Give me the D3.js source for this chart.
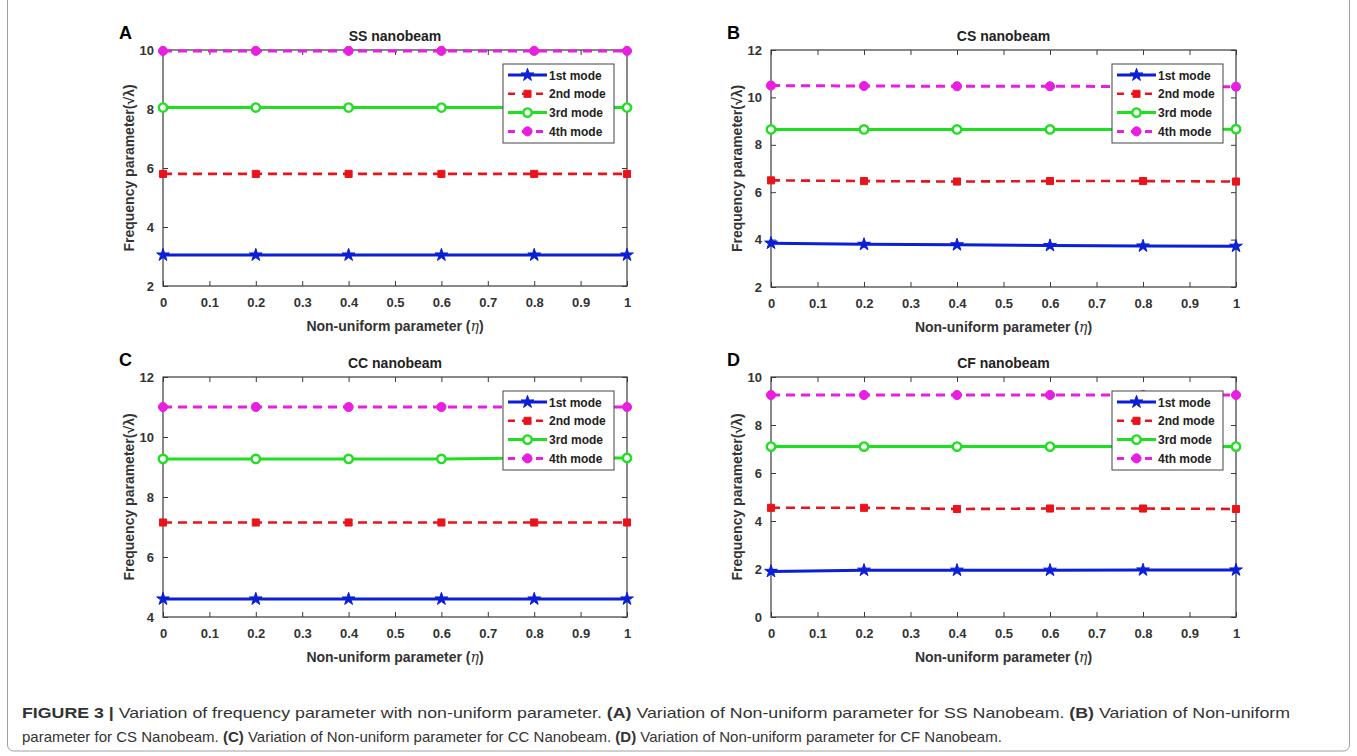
<!DOCTYPE html>
<html><head><meta charset="utf-8">
<script src="https://cdn.jsdelivr.net/npm/d3@7"></script>
<style>body{margin:0;background:#fff}svg{display:block}</style>
</head><body>
<svg id="c" width="1357" height="756"></svg>
<script>
// ---- data ----
const eta = [0, 0.2, 0.4, 0.6, 0.8, 1];
const xTicks = [0, 0.1, 0.2, 0.3, 0.4, 0.5, 0.6, 0.7, 0.8, 0.9, 1];
const modeNames = ["1st mode", "2nd mode", "3rd mode", "4th mode"];
const panelLetters = ["A", "B", "C", "D"];
const panelTitles = ["SS nanobeam", "CS nanobeam", "CC nanobeam", "CF nanobeam"];
const yDomains = [[2, 10], [2, 12], [4, 12], [0, 10]];
const yTickValues = [[2, 4, 6, 8, 10], [2, 4, 6, 8, 10, 12], [4, 6, 8, 10, 12], [0, 2, 4, 6, 8, 10]];
const ssModes = [
  [3.05, 3.05, 3.05, 3.05, 3.05, 3.05],
  [5.8, 5.8, 5.8, 5.8, 5.8, 5.8],
  [8.05, 8.05, 8.05, 8.05, 8.05, 8.05],
  [9.97, 9.97, 9.97, 9.97, 9.97, 9.97]
];
const csModes = [
  [3.85, 3.8, 3.78, 3.75, 3.73, 3.72],
  [6.5, 6.47, 6.45, 6.47, 6.47, 6.45],
  [8.65, 8.65, 8.65, 8.65, 8.65, 8.66],
  [10.5, 10.48, 10.47, 10.47, 10.46, 10.45]
];
const ccModes = [
  [4.6, 4.6, 4.6, 4.6, 4.6, 4.6],
  [7.15, 7.15, 7.15, 7.15, 7.15, 7.15],
  [9.27, 9.27, 9.27, 9.27, 9.3, 9.3],
  [11.0, 11.0, 11.0, 11.0, 11.0, 11.0]
];
const cfModes = [
  [1.9, 1.95, 1.95, 1.95, 1.96, 1.96],
  [4.55, 4.55, 4.5, 4.52, 4.52, 4.5],
  [7.1, 7.1, 7.1, 7.1, 7.1, 7.1],
  [9.25, 9.25, 9.25, 9.25, 9.25, 9.25]
];
const panelData = [ssModes, csModes, ccModes, cfModes];

// ---- layout / style ----
const layouts = [
  {x0: 163, x1: 627, y0: 50, y1: 286},
  {x0: 771, x1: 1236, y0: 50, y1: 287},
  {x0: 163, x1: 627, y0: 377, y1: 617},
  {x0: 771, x1: 1236, y0: 377, y1: 617}
];
const styles = [
  {color: "#0a1fd6", dash: null, width: 3, sym: d3.symbolStar, size: 50, fill: true},
  {color: "#e8141c", dash: "9,6", width: 2.6, sym: d3.symbolSquare, size: 50, fill: true},
  {color: "#1fe01f", dash: null, width: 3, sym: d3.symbolCircle, size: 55, fill: false},
  {color: "#e81ee0", dash: "9,6", width: 3, sym: d3.symbolCircle, size: 65, fill: true}
];
const font = "'Liberation Sans', Arial, sans-serif";
const svg = d3.select("#c");

// figure frame
svg.append("rect").attr("x", 7.5).attr("y", -6).attr("width", 1342).attr("height", 757)
  .attr("rx", 6).attr("fill", "none").attr("stroke", "#a0a0a0").attr("stroke-width", 1);

panelData.forEach((modes, p) => {
  const L = layouts[p];
  const x = d3.scaleLinear().domain([0, 1]).range([L.x0, L.x1]);
  const y = d3.scaleLinear().domain(yDomains[p]).range([L.y1, L.y0]);
  const g = svg.append("g");

  g.append("rect").attr("x", L.x0).attr("y", L.y0).attr("width", L.x1 - L.x0).attr("height", L.y1 - L.y0)
    .attr("fill", "#fff").attr("stroke", "#3a3a3a").attr("stroke-width", 1.2);

  const xb = g.append("g").attr("transform", `translate(0,${L.y1})`)
    .call(d3.axisBottom(x).tickValues(xTicks).tickSizeInner(-5).tickSizeOuter(0).tickPadding(12).tickFormat(d3.format("~g")));
  const xt = g.append("g").attr("transform", `translate(0,${L.y0})`)
    .call(d3.axisTop(x).tickValues(xTicks).tickSizeInner(-5).tickSizeOuter(0).tickFormat(""));
  const yl = g.append("g").attr("transform", `translate(${L.x0},0)`)
    .call(d3.axisLeft(y).tickValues(yTickValues[p]).tickSizeInner(-5).tickSizeOuter(0).tickPadding(9).tickFormat(d3.format("d")));
  const yr = g.append("g").attr("transform", `translate(${L.x1},0)`)
    .call(d3.axisRight(y).tickValues(yTickValues[p]).tickSizeInner(-5).tickSizeOuter(0).tickFormat(""));
  [xb, xt, yl, yr].forEach(a => {
    a.select(".domain").remove();
    a.selectAll("line").attr("stroke", "#3a3a3a");
    a.selectAll("text").attr("fill", "#333").attr("font-family", font).attr("font-weight", "bold").attr("font-size", 13);
  });

  modes.forEach((vals, m) => {
    const s = styles[m];
    const pts = eta.map((e, i) => [e, vals[i]]);
    g.append("path").datum(pts)
      .attr("d", d3.line().x(d => x(d[0])).y(d => y(d[1])))
      .attr("fill", "none").attr("stroke", s.color).attr("stroke-width", s.width)
      .attr("stroke-dasharray", s.dash);
    g.selectAll(null).data(pts).join("path")
      .attr("transform", d => `translate(${x(d[0])},${y(d[1])})`)
      .attr("d", d3.symbol().type(s.sym).size(s.size))
      .attr("fill", s.fill ? s.color : "#fff").attr("stroke", s.color).attr("stroke-width", s.fill ? 1 : 2.4);
  });

  g.append("text").attr("x", (L.x0 + L.x1) / 2).attr("y", L.y0 - 9).attr("text-anchor", "middle")
    .attr("font-family", font).attr("font-weight", "bold").attr("font-size", 14).attr("fill", "#222")
    .text(panelTitles[p]);
  g.append("text").attr("x", L.x0 - 44).attr("y", L.y0 - 11)
    .attr("font-family", font).attr("font-weight", "bold").attr("font-size", 18).attr("fill", "#000")
    .text(panelLetters[p]);
  const xl = g.append("text").attr("x", (L.x0 + L.x1) / 2).attr("y", L.y1 + 45).attr("text-anchor", "middle")
    .attr("font-family", font).attr("font-weight", "bold").attr("font-size", 14).attr("fill", "#333");
  xl.append("tspan").text("Non-uniform parameter (");
  xl.append("tspan").attr("font-style", "italic").attr("font-family", "'DejaVu Serif', serif").attr("font-weight", "normal").text("η");
  xl.append("tspan").text(")");
  g.append("text").attr("transform", `translate(${L.x0 - 29},${(L.y0 + L.y1) / 2}) rotate(-90)`)
    .attr("text-anchor", "middle").attr("font-family", font).attr("font-weight", "bold").attr("font-size", 14).attr("fill", "#333")
    .text("Frequency parameter(√λ)");

  const lx = L.x1 - 124, ly = L.y0 + 14;
  const lg = g.append("g").attr("transform", `translate(${lx},${ly})`);
  lg.append("rect").attr("x", 0).attr("y", 0).attr("width", 111).attr("height", 79)
    .attr("fill", "#fff").attr("stroke", "#444").attr("stroke-width", 1);
  modeNames.forEach((name, m) => {
    const s = styles[m];
    const yy = 11 + m * 18.8;
    lg.append("line").attr("x1", 5).attr("x2", 44).attr("y1", yy).attr("y2", yy)
      .attr("stroke", s.color).attr("stroke-width", s.width).attr("stroke-dasharray", s.dash ? "7,7" : null);
    lg.append("path").attr("transform", `translate(24.5,${yy})`).attr("d", d3.symbol().type(s.sym).size(s.size))
      .attr("fill", s.fill ? s.color : "#fff").attr("stroke", s.color).attr("stroke-width", s.fill ? 1 : 2.4);
    lg.append("text").attr("x", 46).attr("y", yy + 4.5).attr("font-family", font).attr("font-weight", "bold")
      .attr("font-size", 12).attr("fill", "#222").text(name);
  });
});

// caption
const cap = svg.append("g").attr("font-family", "'Liberation Sans', Arial, sans-serif").attr("font-size", 15).attr("fill", "#333");
const c1 = cap.append("text").attr("x", 22).attr("y", 718)
  .attr("textLength", 1268).attr("lengthAdjust", "spacingAndGlyphs");
c1.append("tspan").attr("font-weight", "bold").text("FIGURE 3 | ");
c1.append("tspan").text("Variation of frequency parameter with non-uniform parameter. ");
c1.append("tspan").attr("font-weight", "bold").text("(A) ");
c1.append("tspan").text("Variation of Non-uniform parameter for SS Nanobeam. ");
c1.append("tspan").attr("font-weight", "bold").text("(B) ");
c1.append("tspan").text("Variation of Non-uniform");
const c2 = cap.append("text").attr("x", 22).attr("y", 742);
c2.append("tspan").text("parameter for CS Nanobeam. ");
c2.append("tspan").attr("font-weight", "bold").text("(C) ");
c2.append("tspan").text("Variation of Non-uniform parameter for CC Nanobeam. ");
c2.append("tspan").attr("font-weight", "bold").text("(D) ");
c2.append("tspan").text("Variation of Non-uniform parameter for CF Nanobeam.");
</script>
</body></html>
